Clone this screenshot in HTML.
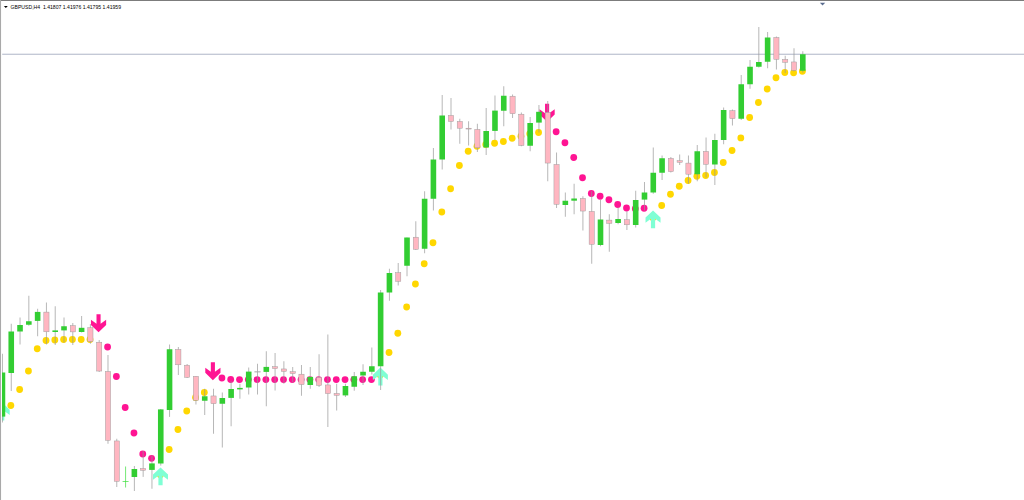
<!DOCTYPE html>
<html><head><meta charset="utf-8"><title>GBPUSD,H4</title>
<style>
html,body{margin:0;padding:0;background:#fff;}
body{width:1024px;height:500px;overflow:hidden;font-family:"Liberation Sans",sans-serif;}
svg{display:block;}
</style></head><body>
<svg width="1024" height="500" viewBox="0 0 1024 500">
<defs><clipPath id="cl"><rect x="2.1" y="1" width="1022" height="499"/></clipPath></defs>
<rect x="0" y="0" width="1024" height="500" fill="#ffffff"/>
<rect x="0" y="0" width="1024" height="1" fill="#7c7c7c"/>
<rect x="0" y="0" width="1.05" height="500" fill="#a9a9a9"/>
<rect x="2.2" y="53.7" width="1021.8" height="1.1" fill="#b6bccc"/>
<polygon points="3.9,5.9 7.8,5.9 5.85,8.1" fill="#000"/>
<polygon points="819.9,2.7 825.2,2.7 822.55,5.5" fill="#5c6e90"/>
<text x="10.6" y="8.9" font-family="Liberation Sans, sans-serif" font-size="5.6" fill="#000" textLength="110.4" lengthAdjust="spacingAndGlyphs" xml:space="preserve">GBPUSD,H4  1.41807 1.41976 1.41795 1.41959</text>
<g clip-path="url(#cl)">
<polygon fill="#7FFFD4" points="2.2,402.5 9.7,409.7 9.7,414.9 4.3,410.95 4.3,420.45 0.1,420.45 0.1,410.95 -5.3,414.9 -5.3,409.7"/>
<circle cx="10.85" cy="405.5" r="3.4" fill="#FFD700"/>
<circle cx="19.64" cy="389.5" r="3.4" fill="#FFD700"/>
<circle cx="28.43" cy="371" r="3.4" fill="#FFD700"/>
<circle cx="37.23" cy="348.75" r="3.4" fill="#FFD700"/>
<circle cx="46.03" cy="340.5" r="3.4" fill="#FFD700"/>
<circle cx="54.82" cy="340" r="3.4" fill="#FFD700"/>
<circle cx="63.62" cy="339.5" r="3.4" fill="#FFD700"/>
<circle cx="72.41" cy="339.5" r="3.4" fill="#FFD700"/>
<circle cx="81.2" cy="339.5" r="3.4" fill="#FFD700"/>
<circle cx="90" cy="339.5" r="3.4" fill="#FFD700"/>
<polygon fill="#FF1493" points="96.5,314.25 100.59,314.25 100.59,323.75 106.14,319.7 106.14,324.9 98.55,332.2 90.95,324.9 90.95,319.7 96.5,323.75"/>
<circle cx="107.59" cy="347" r="3.4" fill="#FF1493"/>
<circle cx="116.38" cy="376.5" r="3.4" fill="#FF1493"/>
<circle cx="125.18" cy="407.5" r="3.4" fill="#FF1493"/>
<circle cx="133.97" cy="433" r="3.4" fill="#FF1493"/>
<circle cx="142.77" cy="454" r="3.4" fill="#FF1493"/>
<circle cx="151.56" cy="458.3" r="3.4" fill="#FF1493"/>
<circle cx="160.36" cy="474.8" r="3.4" fill="#FFD700"/>
<polygon fill="#7FFFD4" points="160.51,467.4 168.01,474.6 168.01,479.8 162.61,475.85 162.61,485.35 158.41,485.35 158.41,475.85 153.01,479.8 153.01,474.6"/>
<circle cx="169.15" cy="449.5" r="3.4" fill="#FFD700"/>
<circle cx="177.95" cy="429.5" r="3.4" fill="#FFD700"/>
<circle cx="186.74" cy="411" r="3.4" fill="#FFD700"/>
<circle cx="195.54" cy="397.5" r="3.4" fill="#FFD700"/>
<circle cx="204.33" cy="392.5" r="3.4" fill="#FFD700"/>
<polygon fill="#FF1493" points="210.83,362.2 214.93,362.2 214.93,371.7 220.48,367.65 220.48,372.85 212.88,380.15 205.28,372.85 205.28,367.65 210.83,371.7"/>
<circle cx="221.92" cy="378" r="3.4" fill="#FF1493"/>
<circle cx="230.72" cy="379.5" r="3.4" fill="#FF1493"/>
<circle cx="239.51" cy="379.6" r="3.4" fill="#FF1493"/>
<circle cx="248.31" cy="379.6" r="3.4" fill="#FF1493"/>
<circle cx="257.11" cy="379.6" r="3.4" fill="#FF1493"/>
<circle cx="265.9" cy="379.6" r="3.4" fill="#FF1493"/>
<circle cx="274.69" cy="379.6" r="3.4" fill="#FF1493"/>
<circle cx="283.49" cy="379.6" r="3.4" fill="#FF1493"/>
<circle cx="292.29" cy="379.6" r="3.4" fill="#FF1493"/>
<circle cx="301.08" cy="379.6" r="3.4" fill="#FF1493"/>
<circle cx="309.88" cy="379.6" r="3.4" fill="#FF1493"/>
<circle cx="318.67" cy="379.6" r="3.4" fill="#FF1493"/>
<circle cx="327.47" cy="379.6" r="3.4" fill="#FF1493"/>
<circle cx="336.26" cy="379.6" r="3.4" fill="#FF1493"/>
<circle cx="345.06" cy="379.6" r="3.4" fill="#FF1493"/>
<circle cx="353.85" cy="379.6" r="3.4" fill="#FF1493"/>
<circle cx="362.64" cy="379.6" r="3.4" fill="#FF1493"/>
<circle cx="371.44" cy="379.6" r="3.4" fill="#FF1493"/>
<circle cx="380.24" cy="374.9" r="3.4" fill="#FFD700"/>
<polygon fill="#7FFFD4" points="380.38,367.5 387.88,374.7 387.88,379.9 382.49,375.95 382.49,385.45 378.28,385.45 378.28,375.95 372.88,379.9 372.88,374.7"/>
<circle cx="389.03" cy="352.5" r="3.4" fill="#FFD700"/>
<circle cx="397.82" cy="333.25" r="3.4" fill="#FFD700"/>
<circle cx="406.62" cy="307" r="3.4" fill="#FFD700"/>
<circle cx="415.42" cy="284" r="3.4" fill="#FFD700"/>
<circle cx="424.21" cy="263.75" r="3.4" fill="#FFD700"/>
<circle cx="433" cy="242.75" r="3.4" fill="#FFD700"/>
<circle cx="441.8" cy="212" r="3.4" fill="#FFD700"/>
<circle cx="450.6" cy="188.75" r="3.4" fill="#FFD700"/>
<circle cx="459.39" cy="165.5" r="3.4" fill="#FFD700"/>
<circle cx="468.19" cy="151.25" r="3.4" fill="#FFD700"/>
<circle cx="476.98" cy="146.25" r="3.4" fill="#FFD700"/>
<circle cx="485.78" cy="144.5" r="3.4" fill="#FFD700"/>
<circle cx="494.57" cy="143.25" r="3.4" fill="#FFD700"/>
<circle cx="503.37" cy="141.5" r="3.4" fill="#FFD700"/>
<circle cx="512.16" cy="138.25" r="3.4" fill="#FFD700"/>
<circle cx="520.96" cy="136.25" r="3.4" fill="#FFD700"/>
<circle cx="529.75" cy="133.75" r="3.4" fill="#FFD700"/>
<circle cx="538.55" cy="132.5" r="3.4" fill="#FFD700"/>
<polygon fill="#FF1493" points="545.04,103.75 549.14,103.75 549.14,113.25 554.69,109.2 554.69,114.4 547.09,121.7 539.49,114.4 539.49,109.2 545.04,113.25"/>
<circle cx="556.14" cy="131.75" r="3.4" fill="#FF1493"/>
<circle cx="564.93" cy="142.75" r="3.4" fill="#FF1493"/>
<circle cx="573.73" cy="157.5" r="3.4" fill="#FF1493"/>
<circle cx="582.52" cy="177.75" r="3.4" fill="#FF1493"/>
<circle cx="591.32" cy="193.5" r="3.4" fill="#FF1493"/>
<circle cx="600.11" cy="196.25" r="3.4" fill="#FF1493"/>
<circle cx="608.91" cy="199.75" r="3.4" fill="#FF1493"/>
<circle cx="617.7" cy="204.5" r="3.4" fill="#FF1493"/>
<circle cx="626.5" cy="208" r="3.4" fill="#FF1493"/>
<circle cx="635.29" cy="208.75" r="3.4" fill="#FF1493"/>
<circle cx="644.09" cy="208.25" r="3.4" fill="#FF1493"/>
<circle cx="652.88" cy="217.8" r="3.4" fill="#FFD700"/>
<polygon fill="#7FFFD4" points="653.03,210.4 660.53,217.6 660.53,222.8 655.13,218.85 655.13,228.35 650.93,228.35 650.93,218.85 645.53,222.8 645.53,217.6"/>
<circle cx="661.68" cy="205.5" r="3.4" fill="#FFD700"/>
<circle cx="670.47" cy="194.25" r="3.4" fill="#FFD700"/>
<circle cx="679.27" cy="186.25" r="3.4" fill="#FFD700"/>
<circle cx="688.06" cy="180.5" r="3.4" fill="#FFD700"/>
<circle cx="696.86" cy="176.25" r="3.4" fill="#FFD700"/>
<circle cx="705.65" cy="175.5" r="3.4" fill="#FFD700"/>
<circle cx="714.45" cy="172.5" r="3.4" fill="#FFD700"/>
<circle cx="723.24" cy="162.5" r="3.4" fill="#FFD700"/>
<circle cx="732.04" cy="150.5" r="3.4" fill="#FFD700"/>
<circle cx="740.83" cy="137.9" r="3.4" fill="#FFD700"/>
<circle cx="749.63" cy="117.5" r="3.4" fill="#FFD700"/>
<circle cx="758.42" cy="102.5" r="3.4" fill="#FFD700"/>
<circle cx="767.22" cy="89" r="3.4" fill="#FFD700"/>
<circle cx="776.01" cy="77.75" r="3.4" fill="#FFD700"/>
<circle cx="784.81" cy="72.5" r="3.4" fill="#FFD700"/>
<circle cx="793.6" cy="72.75" r="3.4" fill="#FFD700"/>
<circle cx="802.4" cy="71.25" r="3.4" fill="#FFD700"/>
</g>
<g clip-path="url(#cl)">
<path d="M2.45 353.75V422.5" stroke="#989898" stroke-width="0.7" fill="none"/>
<rect x="-0.35" y="372.5" width="5.6" height="44.1" fill="#32CD32"/>
<path d="M11.25 323.75V391" stroke="#989898" stroke-width="0.7" fill="none"/>
<rect x="8.45" y="331.5" width="5.6" height="41.5" fill="#32CD32"/>
<path d="M20.04 317.5V344.5" stroke="#989898" stroke-width="0.7" fill="none"/>
<rect x="17.24" y="325" width="5.6" height="6.5" fill="#32CD32"/>
<path d="M28.83 295.75V325.75" stroke="#989898" stroke-width="0.7" fill="none"/>
<rect x="26.03" y="321.25" width="5.6" height="3.5" fill="#32CD32"/>
<path d="M37.63 308.75V336.25" stroke="#989898" stroke-width="0.7" fill="none"/>
<rect x="34.83" y="311.9" width="5.6" height="9" fill="#32CD32"/>
<path d="M46.43 302.5V344.5" stroke="#989898" stroke-width="0.7" fill="none"/>
<rect x="43.83" y="312.1" width="5.2" height="19.7" fill="#FFB6C1" stroke="#9a9a9a" stroke-width="0.45"/>
<path d="M55.22 306.25V345" stroke="#989898" stroke-width="0.7" fill="none"/>
<rect x="52.42" y="330.4" width="5.6" height="1.6" fill="#32CD32"/>
<path d="M64.02 317.5V342.5" stroke="#989898" stroke-width="0.7" fill="none"/>
<rect x="61.22" y="326.25" width="5.6" height="4.15" fill="#32CD32"/>
<path d="M72.81 323V345" stroke="#989898" stroke-width="0.7" fill="none"/>
<rect x="70.21" y="325.6" width="5.2" height="6.3" fill="#FFB6C1" stroke="#9a9a9a" stroke-width="0.45"/>
<path d="M81.61 316V332.5" stroke="#989898" stroke-width="0.7" fill="none"/>
<rect x="78.81" y="327.8" width="5.6" height="4.2" fill="#32CD32"/>
<path d="M90.4 324V343.75" stroke="#989898" stroke-width="0.7" fill="none"/>
<rect x="87.8" y="327.7" width="5.2" height="13.8" fill="#FFB6C1" stroke="#9a9a9a" stroke-width="0.45"/>
<path d="M99.2 340V372" stroke="#989898" stroke-width="0.7" fill="none"/>
<rect x="96.6" y="342.2" width="5.2" height="28.85" fill="#FFB6C1" stroke="#9a9a9a" stroke-width="0.45"/>
<path d="M107.99 355V443.75" stroke="#989898" stroke-width="0.7" fill="none"/>
<rect x="105.39" y="371.45" width="5.2" height="68.85" fill="#FFB6C1" stroke="#9a9a9a" stroke-width="0.45"/>
<path d="M116.78 438.75V487" stroke="#989898" stroke-width="0.7" fill="none"/>
<rect x="114.19" y="440.95" width="5.2" height="40.35" fill="#FFB6C1" stroke="#9a9a9a" stroke-width="0.45"/>
<path d="M125.58 466.5V487.5M122.58 481.5H128.58" stroke="#3be03b" stroke-width="0.7" fill="none"/>
<path d="M134.38 466V491" stroke="#989898" stroke-width="0.7" fill="none"/>
<rect x="131.57" y="469" width="5.6" height="8" fill="#32CD32"/>
<path d="M143.17 451V476.9" stroke="#989898" stroke-width="0.7" fill="none"/>
<rect x="140.57" y="468.5" width="5.2" height="1.8" fill="#FFB6C1" stroke="#9a9a9a" stroke-width="0.45"/>
<path d="M151.96 455.5V488.75" stroke="#989898" stroke-width="0.7" fill="none"/>
<rect x="149.16" y="463.4" width="5.6" height="6.5" fill="#32CD32"/>
<path d="M160.76 409V465.6" stroke="#989898" stroke-width="0.7" fill="none"/>
<rect x="157.96" y="409.4" width="5.6" height="54.1" fill="#32CD32"/>
<path d="M169.55 344.5V416.9" stroke="#989898" stroke-width="0.7" fill="none"/>
<rect x="166.75" y="349.25" width="5.6" height="60.75" fill="#32CD32"/>
<path d="M178.35 347V375" stroke="#989898" stroke-width="0.7" fill="none"/>
<rect x="175.75" y="349.45" width="5.2" height="15.35" fill="#FFB6C1" stroke="#9a9a9a" stroke-width="0.45"/>
<path d="M187.14 364V378" stroke="#989898" stroke-width="0.7" fill="none"/>
<rect x="184.54" y="365.2" width="5.2" height="12.1" fill="#FFB6C1" stroke="#9a9a9a" stroke-width="0.45"/>
<path d="M195.94 376V404.5" stroke="#989898" stroke-width="0.7" fill="none"/>
<rect x="193.34" y="376.3" width="5.2" height="24" fill="#FFB6C1" stroke="#9a9a9a" stroke-width="0.45"/>
<path d="M204.73 388.75V415" stroke="#989898" stroke-width="0.7" fill="none"/>
<rect x="201.93" y="396.25" width="5.6" height="4.5" fill="#32CD32"/>
<path d="M213.53 388.75V433.75" stroke="#989898" stroke-width="0.7" fill="none"/>
<rect x="210.93" y="395.95" width="5.2" height="7.75" fill="#FFB6C1" stroke="#9a9a9a" stroke-width="0.45"/>
<path d="M222.32 392.5V447.5" stroke="#989898" stroke-width="0.7" fill="none"/>
<rect x="219.52" y="398" width="5.6" height="5.75" fill="#32CD32"/>
<path d="M231.12 381.25V426.25" stroke="#989898" stroke-width="0.7" fill="none"/>
<rect x="228.32" y="389" width="5.6" height="8.9" fill="#32CD32"/>
<path d="M239.91 383.75V398.75" stroke="#989898" stroke-width="0.7" fill="none"/>
<rect x="237.11" y="387.9" width="5.6" height="1.5" fill="#32CD32"/>
<path d="M248.71 367.5V394.5" stroke="#989898" stroke-width="0.7" fill="none"/>
<rect x="245.91" y="371.6" width="5.6" height="15.9" fill="#32CD32"/>
<path d="M257.5 363.75V394.5" stroke="#989898" stroke-width="0.7" fill="none"/><rect x="254.41" y="371.35" width="6.2" height="1" fill="#a8a8a8"/>
<path d="M266.3 351.25V406.25" stroke="#989898" stroke-width="0.7" fill="none"/>
<rect x="263.5" y="366.9" width="5.6" height="5" fill="#32CD32"/>
<path d="M275.09 353V390.5" stroke="#989898" stroke-width="0.7" fill="none"/>
<rect x="272.49" y="366.7" width="5.2" height="1.9" fill="#FFB6C1" stroke="#9a9a9a" stroke-width="0.45"/>
<path d="M283.89 361.25V383.75" stroke="#989898" stroke-width="0.7" fill="none"/>
<rect x="281.29" y="368.95" width="5.2" height="2.45" fill="#FFB6C1" stroke="#9a9a9a" stroke-width="0.45"/>
<path d="M292.69 367V382.5" stroke="#989898" stroke-width="0.7" fill="none"/>
<rect x="290.08" y="371.7" width="5.2" height="1.85" fill="#FFB6C1" stroke="#9a9a9a" stroke-width="0.45"/>
<path d="M301.48 365V395.75" stroke="#989898" stroke-width="0.7" fill="none"/>
<rect x="298.88" y="374.2" width="5.2" height="10.35" fill="#FFB6C1" stroke="#9a9a9a" stroke-width="0.45"/>
<path d="M310.27 367V388.75" stroke="#989898" stroke-width="0.7" fill="none"/>
<rect x="307.47" y="376.9" width="5.6" height="8.1" fill="#32CD32"/>
<path d="M319.07 354.25V387" stroke="#989898" stroke-width="0.7" fill="none"/>
<rect x="316.47" y="377.3" width="5.2" height="8.1" fill="#FFB6C1" stroke="#9a9a9a" stroke-width="0.45"/>
<path d="M327.87 334.5V427" stroke="#989898" stroke-width="0.7" fill="none"/>
<rect x="325.26" y="384.95" width="5.2" height="8.6" fill="#FFB6C1" stroke="#9a9a9a" stroke-width="0.45"/>
<path d="M336.66 383.75V410.5" stroke="#989898" stroke-width="0.7" fill="none"/>
<rect x="334.06" y="393.45" width="5.2" height="1.85" fill="#FFB6C1" stroke="#9a9a9a" stroke-width="0.45"/>
<path d="M345.45 383.75V397" stroke="#989898" stroke-width="0.7" fill="none"/>
<rect x="342.65" y="386" width="5.6" height="9.4" fill="#32CD32"/>
<path d="M354.25 372V390.75" stroke="#989898" stroke-width="0.7" fill="none"/>
<rect x="351.45" y="376.25" width="5.6" height="10.5" fill="#32CD32"/>
<path d="M363.04 364.25V385" stroke="#989898" stroke-width="0.7" fill="none"/>
<rect x="360.24" y="371.75" width="5.6" height="3.75" fill="#32CD32"/>
<path d="M371.84 347.5V374.5" stroke="#989898" stroke-width="0.7" fill="none"/>
<rect x="369.04" y="366.25" width="5.6" height="5.5" fill="#32CD32"/>
<path d="M380.63 290V390" stroke="#989898" stroke-width="0.7" fill="none"/>
<rect x="377.83" y="292.5" width="5.6" height="73.75" fill="#32CD32"/>
<path d="M389.43 268.75V300.75" stroke="#989898" stroke-width="0.7" fill="none"/>
<rect x="386.63" y="273" width="5.6" height="19.5" fill="#32CD32"/>
<path d="M398.22 263V285.5" stroke="#989898" stroke-width="0.7" fill="none"/>
<rect x="395.62" y="272.7" width="5.2" height="8.6" fill="#FFB6C1" stroke="#9a9a9a" stroke-width="0.45"/>
<path d="M407.02 237.5V276.25" stroke="#989898" stroke-width="0.7" fill="none"/>
<rect x="404.22" y="237.5" width="5.6" height="28.25" fill="#32CD32"/>
<path d="M415.81 221.25V250" stroke="#989898" stroke-width="0.7" fill="none"/>
<rect x="413.21" y="237.2" width="5.2" height="12.1" fill="#FFB6C1" stroke="#9a9a9a" stroke-width="0.45"/>
<path d="M424.61 191.25V253.25" stroke="#989898" stroke-width="0.7" fill="none"/>
<rect x="421.81" y="198.75" width="5.6" height="50" fill="#32CD32"/>
<path d="M433.4 148V210.5" stroke="#989898" stroke-width="0.7" fill="none"/>
<rect x="430.6" y="159.5" width="5.6" height="39.25" fill="#32CD32"/>
<path d="M442.2 95V169.5" stroke="#989898" stroke-width="0.7" fill="none"/>
<rect x="439.4" y="115.5" width="5.6" height="44" fill="#32CD32"/>
<path d="M451 98V129.5" stroke="#989898" stroke-width="0.7" fill="none"/>
<rect x="448.39" y="115.45" width="5.2" height="5.95" fill="#FFB6C1" stroke="#9a9a9a" stroke-width="0.45"/>
<path d="M459.79 118.75V143.75" stroke="#989898" stroke-width="0.7" fill="none"/>
<rect x="457.19" y="121.45" width="5.2" height="6.75" fill="#FFB6C1" stroke="#9a9a9a" stroke-width="0.45"/>
<path d="M468.58 121.25V145.5" stroke="#989898" stroke-width="0.7" fill="none"/>
<rect x="465.98" y="128.2" width="5.2" height="0.85" fill="#FFB6C1" stroke="#9a9a9a" stroke-width="0.45"/>
<path d="M477.38 123.75V152" stroke="#989898" stroke-width="0.7" fill="none"/>
<rect x="474.78" y="129.45" width="5.2" height="18.35" fill="#FFB6C1" stroke="#9a9a9a" stroke-width="0.45"/>
<path d="M486.18 108V155" stroke="#989898" stroke-width="0.7" fill="none"/>
<rect x="483.38" y="131" width="5.6" height="16.5" fill="#32CD32"/>
<path d="M494.97 95.5V140" stroke="#989898" stroke-width="0.7" fill="none"/>
<rect x="492.17" y="110.6" width="5.6" height="20.3" fill="#32CD32"/>
<path d="M503.76 86.25V126.25" stroke="#989898" stroke-width="0.7" fill="none"/>
<rect x="500.96" y="95.75" width="5.6" height="15" fill="#32CD32"/>
<path d="M512.56 94.5V118" stroke="#989898" stroke-width="0.7" fill="none"/>
<rect x="509.96" y="96.2" width="5.2" height="17.5" fill="#FFB6C1" stroke="#9a9a9a" stroke-width="0.45"/>
<path d="M521.36 112.5V146.25" stroke="#989898" stroke-width="0.7" fill="none"/>
<rect x="518.76" y="114.2" width="5.2" height="31.3" fill="#FFB6C1" stroke="#9a9a9a" stroke-width="0.45"/>
<path d="M530.15 117V151.25" stroke="#989898" stroke-width="0.7" fill="none"/>
<rect x="527.35" y="123" width="5.6" height="22.75" fill="#32CD32"/>
<path d="M538.95 105V132.5" stroke="#989898" stroke-width="0.7" fill="none"/>
<rect x="536.15" y="111.8" width="5.6" height="10.8" fill="#32CD32"/>
<path d="M547.74 101V181.25" stroke="#989898" stroke-width="0.7" fill="none"/>
<rect x="545.14" y="112.4" width="5.2" height="50.65" fill="#FFB6C1" stroke="#9a9a9a" stroke-width="0.45"/>
<path d="M556.54 152.5V208" stroke="#989898" stroke-width="0.7" fill="none"/>
<rect x="553.94" y="164.45" width="5.2" height="39.85" fill="#FFB6C1" stroke="#9a9a9a" stroke-width="0.45"/>
<path d="M565.33 192.5V216.75" stroke="#989898" stroke-width="0.7" fill="none"/>
<rect x="562.53" y="200.75" width="5.6" height="4.25" fill="#32CD32"/>
<path d="M574.12 183.75V214.25" stroke="#989898" stroke-width="0.7" fill="none"/>
<rect x="571.33" y="198.5" width="5.6" height="2.2" fill="#32CD32"/>
<path d="M582.92 196.25V230.5" stroke="#989898" stroke-width="0.7" fill="none"/>
<rect x="580.32" y="198.45" width="5.2" height="12.6" fill="#FFB6C1" stroke="#9a9a9a" stroke-width="0.45"/>
<path d="M591.72 191.25V263.75" stroke="#989898" stroke-width="0.7" fill="none"/>
<rect x="589.12" y="211.45" width="5.2" height="32.85" fill="#FFB6C1" stroke="#9a9a9a" stroke-width="0.45"/>
<path d="M600.51 200V246.25" stroke="#989898" stroke-width="0.7" fill="none"/>
<rect x="597.71" y="219.5" width="5.6" height="25.5" fill="#32CD32"/>
<path d="M609.31 214.25V251.75" stroke="#989898" stroke-width="0.7" fill="none"/>
<rect x="606.71" y="220.1" width="5.2" height="3.2" fill="#FFB6C1" stroke="#9a9a9a" stroke-width="0.45"/>
<path d="M618.1 207.5V224.25" stroke="#989898" stroke-width="0.7" fill="none"/>
<rect x="615.3" y="219" width="5.6" height="4" fill="#32CD32"/>
<path d="M626.9 211.25V230" stroke="#989898" stroke-width="0.7" fill="none"/>
<rect x="624.3" y="219.7" width="5.2" height="5.1" fill="#FFB6C1" stroke="#9a9a9a" stroke-width="0.45"/>
<path d="M635.69 190.75V227.5" stroke="#989898" stroke-width="0.7" fill="none"/>
<rect x="632.89" y="200" width="5.6" height="25" fill="#32CD32"/>
<path d="M644.49 182V210.5" stroke="#989898" stroke-width="0.7" fill="none"/>
<rect x="641.69" y="192.5" width="5.6" height="7.1" fill="#32CD32"/>
<path d="M653.28 147.5V193.75" stroke="#989898" stroke-width="0.7" fill="none"/>
<rect x="650.48" y="172.75" width="5.6" height="19.75" fill="#32CD32"/>
<path d="M662.08 155.5V180" stroke="#989898" stroke-width="0.7" fill="none"/>
<rect x="659.28" y="158.25" width="5.6" height="14.5" fill="#32CD32"/>
<path d="M670.87 157V172.5" stroke="#989898" stroke-width="0.7" fill="none"/>
<rect x="668.27" y="158.45" width="5.2" height="13.1" fill="#FFB6C1" stroke="#9a9a9a" stroke-width="0.45"/>
<path d="M679.67 154.5V165" stroke="#989898" stroke-width="0.7" fill="none"/>
<rect x="677.07" y="160.7" width="5.2" height="1.6" fill="#FFB6C1" stroke="#9a9a9a" stroke-width="0.45"/>
<path d="M688.46 155.5V183.75" stroke="#989898" stroke-width="0.7" fill="none"/>
<rect x="685.86" y="163.1" width="5.2" height="11.1" fill="#FFB6C1" stroke="#9a9a9a" stroke-width="0.45"/>
<path d="M697.25 145V181.25" stroke="#989898" stroke-width="0.7" fill="none"/>
<rect x="694.46" y="151.25" width="5.6" height="23" fill="#32CD32"/>
<path d="M706.05 137.5V177.5" stroke="#989898" stroke-width="0.7" fill="none"/>
<rect x="703.45" y="151.45" width="5.2" height="12.85" fill="#FFB6C1" stroke="#9a9a9a" stroke-width="0.45"/>
<path d="M714.85 133.75V185" stroke="#989898" stroke-width="0.7" fill="none"/>
<rect x="712.05" y="140" width="5.6" height="24.5" fill="#32CD32"/>
<path d="M723.64 107.5V144.25" stroke="#989898" stroke-width="0.7" fill="none"/>
<rect x="720.84" y="110" width="5.6" height="30" fill="#32CD32"/>
<path d="M732.44 109.5V125.5" stroke="#989898" stroke-width="0.7" fill="none"/>
<rect x="729.84" y="110.7" width="5.2" height="7.85" fill="#FFB6C1" stroke="#9a9a9a" stroke-width="0.45"/>
<path d="M741.23 75V120" stroke="#989898" stroke-width="0.7" fill="none"/>
<rect x="738.43" y="84.25" width="5.6" height="34.5" fill="#32CD32"/>
<path d="M750.03 60V88.75" stroke="#989898" stroke-width="0.7" fill="none"/>
<rect x="747.23" y="66.75" width="5.6" height="17.5" fill="#32CD32"/>
<path d="M758.82 27V67.5" stroke="#989898" stroke-width="0.7" fill="none"/>
<rect x="756.02" y="62" width="5.6" height="4.75" fill="#32CD32"/>
<path d="M767.62 32V68.25" stroke="#989898" stroke-width="0.7" fill="none"/>
<rect x="764.82" y="37.5" width="5.6" height="24.25" fill="#32CD32"/>
<path d="M776.41 36.5V69.5" stroke="#989898" stroke-width="0.7" fill="none"/>
<rect x="773.81" y="37.45" width="5.2" height="21.85" fill="#FFB6C1" stroke="#9a9a9a" stroke-width="0.45"/>
<path d="M785.21 55.75V73" stroke="#989898" stroke-width="0.7" fill="none"/>
<rect x="782.61" y="59.45" width="5.2" height="2.85" fill="#FFB6C1" stroke="#9a9a9a" stroke-width="0.45"/>
<path d="M794 48.25V71.25" stroke="#989898" stroke-width="0.7" fill="none"/>
<rect x="791.4" y="61.95" width="5.2" height="8.35" fill="#FFB6C1" stroke="#9a9a9a" stroke-width="0.45"/>
<path d="M802.8 51.25V72.5" stroke="#989898" stroke-width="0.7" fill="none"/>
<rect x="800" y="54.25" width="5.6" height="16.5" fill="#32CD32"/>
</g>
</svg>
</body></html>
